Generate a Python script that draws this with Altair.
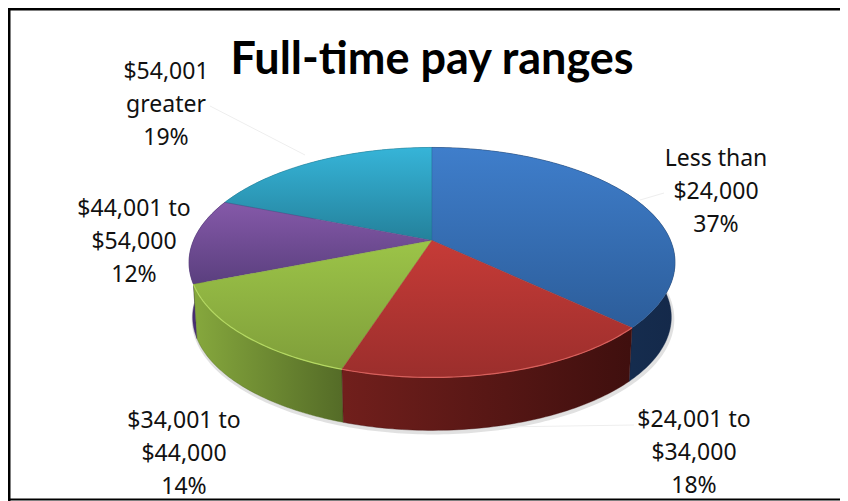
import math
import altair as alt
import pandas as pd

categories = ["Less than $24,000", "$24,001 to $34,000", "$34,001 to $44,000", "$44,001 to $54,000", "$54,001 greater"]
shares = [37, 18, 14, 12, 19]
label_lines = [["Less than", "$24,000", "37%"], ["$24,001 to", "$34,000", "18%"], ["$34,001 to", "$44,000", "14%"],
               ["$44,001 to", "$54,000", "12%"], ["$54,001", "greater", "19%"]]
title_text = "Full-time pay ranges"

# layout of the tilted pie (page pixels)
CX, CY, B, A, K, DEPTH = 432, 240.5, 238.5, 110.8, 0.191, 55
label_anchor = [(716, 159), (694, 420), (184, 421), (134, 209), (166, 72)]
LINE_H = 33

top_cols = [("#3f7ecb", "#2c5d9a"), ("#c63b37", "#9b2e2c"), ("#9cc448", "#7f9e3a"), ("#8559a9", "#5a3f7e"), ("#36b4d8", "#24819b")]
wall_cols = [("#1a3a60", "#14294a"), ("#711f1c", "#3f0f0e"), ("#86a83d", "#546b27"), ("#4a2f78", "#3d2763"), ("#24819b", "#24819b")]
rim_cols = ["#4a80c0", "#d8605c", "#b4d862", "#8559a9", "#36b4d8"]


def pt(deg, bottom=False):
    r = math.radians(deg)
    u, v = math.sin(r), math.cos(r)
    d = 1 + K * v
    s = 0.985 if bottom else 1.0
    return CX + s * B * u / d, CY - s * A * v / d + (DEPTH if bottom else 0)


def arc(a0, a1):
    n = max(2, int(abs(a1 - a0)) + 1)
    return [a0 + (a1 - a0) * i / (n - 1) for i in range(n)]


def grad(c0, c1, horizontal=False):
    return alt.LinearGradient(
        gradient="linear",
        stops=[alt.GradientStop(color=c0, offset=0), alt.GradientStop(color=c1, offset=1)],
        x1=0, y1=0, x2=1 if horizontal else 0, y2=0 if horizontal else 1,
    )


X = alt.X("x:Q", scale=alt.Scale(domain=[8, 840]), axis=None)
Y = alt.Y("y:Q", scale=alt.Scale(domain=[501, 8]), axis=None)


def poly(points, **mark):
    df = pd.DataFrame([{"i": i, "x": p[0], "y": p[1]} for i, p in enumerate(points)])
    return alt.Chart(df).mark_line(**mark).encode(x=X, y=Y, order=alt.Order("i:Q"))


layers = []
starts, t = [], 0
for s in shares:
    starts.append(t)
    t += s
angles = [(a * 3.6, (a + s) * 3.6) for a, s in zip(starts, shares)]

# soft edge under the side wall
layers.append(poly([(x + 1, y + 2) for x, y in (pt(a, True) for a in arc(75, 290))],
                   color="#b5b5b5", strokeWidth=4, opacity=0.4))
# side walls, then top faces
for i in [4, 0, 3, 2, 1]:
    a0, a1 = angles[i]
    pts = [pt(a) for a in arc(a0, a1)] + [pt(a, True) for a in arc(a1, a0)]
    c0, c1 = wall_cols[i]
    layers.append(poly(pts, interpolate="linear-closed", fill=grad(c0, c1, True), stroke=c1, strokeWidth=0.4))
for i in [4, 0, 3, 2, 1]:
    a0, a1 = angles[i]
    pts = [(CX, CY)] + [pt(a) for a in arc(a0, a1)]
    c0, c1 = top_cols[i]
    layers.append(poly(pts, interpolate="linear-closed", fill=grad(c0, c1), stroke=c1, strokeWidth=0.4))
# highlight on the front rim
for i in [1, 2]:
    a0, a1 = angles[i]
    layers.append(poly([pt(a) for a in arc(a0, a1)], color=rim_cols[i], strokeWidth=1.2))

# faint leader lines
for seg in [[(210, 106), (305, 155)], [(640, 200), (664, 193)], [(500, 427), (634, 425)]]:
    layers.append(poly(seg, color="#eeeeee", strokeWidth=1))

# frame
for seg, w in [([(8, 9), (840, 9)], 3), ([(9, 8), (9, 501)], 3), ([(8, 499.5), (840, 499.5)], 2)]:
    layers.append(poly(seg, color="#000000", strokeWidth=w))

rows = []
for lines, (lx, ly) in zip(label_lines, label_anchor):
    for j, line in enumerate(lines):
        rows.append({"x": lx, "y": ly + j * LINE_H, "t": line})
layers.append(alt.Chart(pd.DataFrame(rows)).mark_text(font="Noto Sans", fontSize=23, color="#111111", align="center", baseline="middle")
              .encode(x=X, y=Y, text="t:N"))
layers.append(alt.Chart(pd.DataFrame([{"x": 432, "y": 60, "t": title_text}]))
              .mark_text(font="Lato", fontWeight="bold", fontSize=45, color="#000000", align="center", baseline="middle")
              .encode(x=X, y=Y, text="t:N"))

chart = (alt.layer(*layers)
         .properties(width=832, height=493, padding=0, autosize=alt.AutoSizeParams(type="none"))
         .configure_view(stroke=None)
         .configure(background="white"))
chart.save("out.html", embed_options={"renderer": "svg", "actions": False})
